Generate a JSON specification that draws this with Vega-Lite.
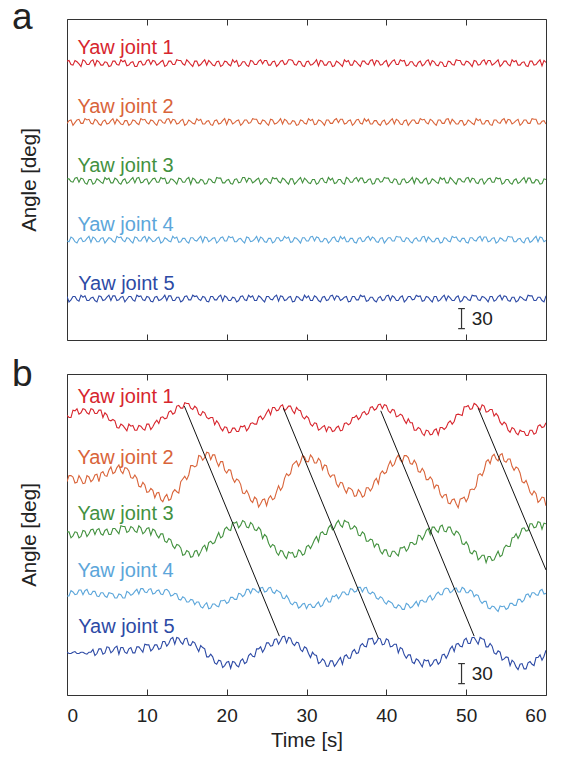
{
"$schema": "https://vega.github.io/schema/vega-lite/v6.json",
"background": "white",
"padding": {"left": 11, "top": -2, "right": 5, "bottom": 5},
"config": {"font": "Liberation Sans", "view": {"stroke": "#333", "strokeWidth": 1}, "axis": {"grid": false}},
"datasets": {
"sig": [
{"t":0,"a1":417,"a2":324,"a3":241,"a4":148,"a5":65,"b1":418,"b2":319,"b3":244,"b4":148,"b5":64},
{"t":0.5,"a1":412,"a2":329,"a3":237,"a4":154,"a5":60,"b1":415,"b2":328,"b3":235,"b4":156,"b5":62},
{"t":1,"a1":418,"a2":325,"a3":242,"a4":147,"a5":65,"b1":425,"b2":317,"b3":244,"b4":150,"b5":65},
{"t":1.5,"a1":413,"a2":330,"a3":236,"a4":151,"a5":58,"b1":420,"b2":328,"b3":235,"b4":157,"b5":62},
{"t":2,"a1":419,"a2":324,"a3":241,"a4":147,"a5":64,"b1":428,"b2":316,"b3":246,"b4":150,"b5":64},
{"t":2.5,"a1":412,"a2":329,"a3":233,"a4":152,"a5":59,"b1":422,"b2":328,"b3":237,"b4":158,"b5":61},
{"t":3,"a1":417,"a2":324,"a3":240,"a4":146,"a5":63,"b1":428,"b2":319,"b3":247,"b4":150,"b5":64},
{"t":3.5,"a1":410,"a2":330,"a3":235,"a4":152,"a5":59,"b1":421,"b2":329,"b3":240,"b4":155,"b5":59},
{"t":4,"a1":416,"a2":323,"a3":239,"a4":147,"a5":66,"b1":426,"b2":319,"b3":249,"b4":147,"b5":69},
{"t":4.5,"a1":411,"a2":327,"a3":234,"a4":153,"a5":59,"b1":415,"b2":334,"b3":239,"b4":153,"b5":61},
{"t":5,"a1":415,"a2":323,"a3":240,"a4":149,"a5":64,"b1":419,"b2":327,"b3":248,"b4":146,"b5":72},
{"t":5.5,"a1":410,"a2":328,"a3":235,"a4":152,"a5":59,"b1":410,"b2":341,"b3":240,"b4":152,"b5":63},
{"t":6,"a1":417,"a2":323,"a3":242,"a4":146,"a5":66,"b1":410,"b2":333,"b3":249,"b4":145,"b5":71},
{"t":6.5,"a1":411,"a2":327,"a3":235,"a4":153,"a5":60,"b1":399,"b2":344,"b3":241,"b4":151,"b5":61},
{"t":7,"a1":416,"a2":322,"a3":239,"a4":149,"a5":65,"b1":403,"b2":331,"b3":252,"b4":145,"b5":71},
{"t":7.5,"a1":410,"a2":328,"a3":234,"a4":153,"a5":61,"b1":395,"b2":339,"b3":243,"b4":155,"b5":62},
{"t":8,"a1":415,"a2":323,"a3":240,"a4":148,"a5":65,"b1":402,"b2":325,"b3":252,"b4":149,"b5":71},
{"t":8.5,"a1":409,"a2":328,"a3":235,"a4":154,"a5":58,"b1":396,"b2":329,"b3":245,"b4":155,"b5":63},
{"t":9,"a1":416,"a2":322,"a3":243,"a4":148,"a5":65,"b1":403,"b2":312,"b3":253,"b4":151,"b5":72},
{"t":9.5,"a1":411,"a2":329,"a3":236,"a4":153,"a5":60,"b1":398,"b2":318,"b3":241,"b4":159,"b5":64},
{"t":10,"a1":418,"a2":325,"a3":241,"a4":147,"a5":65,"b1":405,"b2":303,"b3":249,"b4":153,"b5":75},
{"t":10.5,"a1":412,"a2":329,"a3":237,"a4":151,"a5":58,"b1":397,"b2":309,"b3":239,"b4":159,"b5":66},
{"t":11,"a1":417,"a2":324,"a3":242,"a4":148,"a5":64,"b1":407,"b2":295,"b3":246,"b4":152,"b5":75},
{"t":11.5,"a1":413,"a2":329,"a3":236,"a4":154,"a5":59,"b1":406,"b2":303,"b3":235,"b4":157,"b5":68},
{"t":12,"a1":418,"a2":325,"a3":241,"a4":147,"a5":63,"b1":416,"b2":289,"b3":241,"b4":150,"b5":80},
{"t":12.5,"a1":411,"a2":330,"a3":234,"a4":151,"a5":59,"b1":414,"b2":300,"b3":228,"b4":158,"b5":73},
{"t":13,"a1":417,"a2":324,"a3":241,"a4":147,"a5":66,"b1":425,"b2":293,"b3":232,"b4":148,"b5":84},
{"t":13.5,"a1":412,"a2":329,"a3":237,"a4":152,"a5":59,"b1":422,"b2":307,"b3":219,"b4":152,"b5":76},
{"t":14,"a1":418,"a2":324,"a3":242,"a4":146,"a5":64,"b1":433,"b2":302,"b3":224,"b4":143,"b5":85},
{"t":14.5,"a1":413,"a2":330,"a3":236,"a4":152,"a5":59,"b1":429,"b2":323,"b3":209,"b4":147,"b5":76},
{"t":15,"a1":419,"a2":323,"a3":241,"a4":147,"a5":66,"b1":436,"b2":322,"b3":216,"b4":139,"b5":85},
{"t":15.5,"a1":412,"a2":327,"a3":233,"a4":153,"a5":60,"b1":429,"b2":343,"b3":206,"b4":143,"b5":74},
{"t":16,"a1":417,"a2":323,"a3":240,"a4":149,"a5":65,"b1":432,"b2":341,"b3":215,"b4":135,"b5":78},
{"t":16.5,"a1":410,"a2":328,"a3":235,"a4":152,"a5":61,"b1":420,"b2":358,"b3":208,"b4":139,"b5":65},
{"t":17,"a1":416,"a2":323,"a3":239,"a4":146,"a5":65,"b1":424,"b2":351,"b3":221,"b4":130,"b5":71},
{"t":17.5,"a1":411,"a2":327,"a3":234,"a4":153,"a5":58,"b1":415,"b2":363,"b3":216,"b4":138,"b5":57},
{"t":18,"a1":415,"a2":322,"a3":240,"a4":149,"a5":65,"b1":415,"b2":352,"b3":230,"b4":130,"b5":61},
{"t":18.5,"a1":410,"a2":328,"a3":235,"a4":153,"a5":60,"b1":404,"b2":359,"b3":228,"b4":136,"b5":48},
{"t":19,"a1":417,"a2":323,"a3":242,"a4":148,"a5":65,"b1":406,"b2":342,"b3":243,"b4":132,"b5":52},
{"t":19.5,"a1":411,"a2":328,"a3":235,"a4":154,"a5":58,"b1":395,"b2":349,"b3":237,"b4":141,"b5":41},
{"t":20,"a1":416,"a2":322,"a3":239,"a4":148,"a5":64,"b1":400,"b2":332,"b3":251,"b4":137,"b5":49},
{"t":20.5,"a1":410,"a2":329,"a3":234,"a4":153,"a5":59,"b1":393,"b2":336,"b3":246,"b4":146,"b5":40},
{"t":21,"a1":415,"a2":325,"a3":240,"a4":147,"a5":63,"b1":399,"b2":318,"b3":257,"b4":143,"b5":49},
{"t":21.5,"a1":409,"a2":329,"a3":235,"a4":151,"a5":59,"b1":394,"b2":321,"b3":250,"b4":152,"b5":42},
{"t":22,"a1":416,"a2":324,"a3":243,"a4":148,"a5":66,"b1":401,"b2":302,"b3":261,"b4":147,"b5":54},
{"t":22.5,"a1":411,"a2":329,"a3":236,"a4":154,"a5":59,"b1":395,"b2":306,"b3":251,"b4":158,"b5":49},
{"t":23,"a1":418,"a2":325,"a3":241,"a4":147,"a5":64,"b1":406,"b2":291,"b3":258,"b4":152,"b5":62},
{"t":23.5,"a1":412,"a2":330,"a3":237,"a4":151,"a5":59,"b1":405,"b2":296,"b3":247,"b4":158,"b5":57},
{"t":24,"a1":417,"a2":324,"a3":242,"a4":147,"a5":66,"b1":415,"b2":281,"b3":251,"b4":153,"b5":69},
{"t":24.5,"a1":413,"a2":329,"a3":236,"a4":152,"a5":60,"b1":412,"b2":292,"b3":234,"b4":161,"b5":64},
{"t":25,"a1":418,"a2":324,"a3":241,"a4":146,"a5":65,"b1":422,"b2":283,"b3":237,"b4":155,"b5":78},
{"t":25.5,"a1":411,"a2":330,"a3":234,"a4":152,"a5":61,"b1":419,"b2":298,"b3":221,"b4":161,"b5":73},
{"t":26,"a1":417,"a2":323,"a3":241,"a4":147,"a5":65,"b1":430,"b2":294,"b3":223,"b4":152,"b5":83},
{"t":26.5,"a1":412,"a2":327,"a3":237,"a4":153,"a5":58,"b1":426,"b2":313,"b3":209,"b4":155,"b5":76},
{"t":27,"a1":418,"a2":323,"a3":242,"a4":149,"a5":65,"b1":434,"b2":311,"b3":215,"b4":145,"b5":87},
{"t":27.5,"a1":413,"a2":328,"a3":236,"a4":152,"a5":60,"b1":428,"b2":331,"b3":204,"b4":149,"b5":78},
{"t":28,"a1":419,"a2":323,"a3":241,"a4":146,"a5":65,"b1":432,"b2":331,"b3":212,"b4":137,"b5":85},
{"t":28.5,"a1":412,"a2":327,"a3":233,"a4":153,"a5":58,"b1":421,"b2":347,"b3":206,"b4":139,"b5":74},
{"t":29,"a1":417,"a2":322,"a3":240,"a4":149,"a5":64,"b1":426,"b2":342,"b3":217,"b4":130,"b5":78},
{"t":29.5,"a1":410,"a2":328,"a3":235,"a4":153,"a5":59,"b1":416,"b2":358,"b3":209,"b4":136,"b5":65},
{"t":30,"a1":416,"a2":323,"a3":239,"a4":148,"a5":63,"b1":417,"b2":349,"b3":222,"b4":129,"b5":70},
{"t":30.5,"a1":411,"a2":328,"a3":234,"a4":154,"a5":59,"b1":405,"b2":359,"b3":219,"b4":136,"b5":56},
{"t":31,"a1":415,"a2":322,"a3":240,"a4":148,"a5":66,"b1":407,"b2":347,"b3":232,"b4":131,"b5":60},
{"t":31.5,"a1":410,"a2":329,"a3":235,"a4":153,"a5":59,"b1":396,"b2":354,"b3":229,"b4":139,"b5":47},
{"t":32,"a1":417,"a2":325,"a3":242,"a4":147,"a5":64,"b1":401,"b2":337,"b3":244,"b4":134,"b5":54},
{"t":32.5,"a1":411,"a2":329,"a3":235,"a4":151,"a5":59,"b1":394,"b2":343,"b3":240,"b4":145,"b5":43},
{"t":33,"a1":416,"a2":324,"a3":239,"a4":148,"a5":66,"b1":400,"b2":326,"b3":254,"b4":139,"b5":51},
{"t":33.5,"a1":410,"a2":329,"a3":234,"a4":154,"a5":60,"b1":395,"b2":329,"b3":250,"b4":147,"b5":43},
{"t":34,"a1":415,"a2":325,"a3":240,"a4":147,"a5":65,"b1":402,"b2":311,"b3":261,"b4":144,"b5":52},
{"t":34.5,"a1":409,"a2":330,"a3":235,"a4":151,"a5":61,"b1":396,"b2":317,"b3":251,"b4":154,"b5":46},
{"t":35,"a1":416,"a2":324,"a3":243,"a4":147,"a5":65,"b1":407,"b2":302,"b3":259,"b4":150,"b5":60},
{"t":35.5,"a1":411,"a2":329,"a3":236,"a4":152,"a5":58,"b1":406,"b2":309,"b3":248,"b4":159,"b5":55},
{"t":36,"a1":418,"a2":324,"a3":241,"a4":146,"a5":65,"b1":415,"b2":297,"b3":253,"b4":154,"b5":68},
{"t":36.5,"a1":412,"a2":330,"a3":237,"a4":152,"a5":60,"b1":412,"b2":307,"b3":239,"b4":161,"b5":63},
{"t":37,"a1":417,"a2":323,"a3":242,"a4":147,"a5":65,"b1":422,"b2":296,"b3":244,"b4":154,"b5":77},
{"t":37.5,"a1":413,"a2":327,"a3":236,"a4":153,"a5":58,"b1":419,"b2":310,"b3":230,"b4":161,"b5":72},
{"t":38,"a1":418,"a2":323,"a3":241,"a4":149,"a5":64,"b1":430,"b2":305,"b3":233,"b4":151,"b5":84},
{"t":38.5,"a1":411,"a2":328,"a3":234,"a4":152,"a5":59,"b1":426,"b2":320,"b3":221,"b4":152,"b5":76},
{"t":39,"a1":417,"a2":323,"a3":241,"a4":146,"a5":63,"b1":434,"b2":316,"b3":225,"b4":143,"b5":85},
{"t":39.5,"a1":412,"a2":327,"a3":237,"a4":153,"a5":59,"b1":428,"b2":335,"b3":211,"b4":145,"b5":75},
{"t":40,"a1":418,"a2":322,"a3":242,"a4":149,"a5":66,"b1":433,"b2":333,"b3":217,"b4":136,"b5":84},
{"t":40.5,"a1":413,"a2":328,"a3":236,"a4":153,"a5":59,"b1":422,"b2":350,"b3":207,"b4":139,"b5":72},
{"t":41,"a1":419,"a2":323,"a3":241,"a4":148,"a5":64,"b1":426,"b2":345,"b3":215,"b4":131,"b5":76},
{"t":41.5,"a1":412,"a2":328,"a3":233,"a4":154,"a5":59,"b1":417,"b2":359,"b3":208,"b4":135,"b5":63},
{"t":42,"a1":417,"a2":322,"a3":240,"a4":148,"a5":66,"b1":418,"b2":348,"b3":220,"b4":128,"b5":69},
{"t":42.5,"a1":410,"a2":329,"a3":235,"a4":153,"a5":60,"b1":406,"b2":358,"b3":215,"b4":137,"b5":55},
{"t":43,"a1":416,"a2":325,"a3":239,"a4":147,"a5":65,"b1":407,"b2":346,"b3":228,"b4":130,"b5":60},
{"t":43.5,"a1":411,"a2":329,"a3":234,"a4":151,"a5":61,"b1":396,"b2":351,"b3":225,"b4":136,"b5":47},
{"t":44,"a1":415,"a2":324,"a3":240,"a4":148,"a5":65,"b1":400,"b2":334,"b3":239,"b4":133,"b5":52},
{"t":44.5,"a1":410,"a2":329,"a3":235,"a4":154,"a5":58,"b1":391,"b2":339,"b3":232,"b4":142,"b5":42},
{"t":45,"a1":417,"a2":325,"a3":242,"a4":147,"a5":65,"b1":396,"b2":322,"b3":246,"b4":139,"b5":51},
{"t":45.5,"a1":411,"a2":330,"a3":235,"a4":151,"a5":60,"b1":389,"b2":326,"b3":240,"b4":149,"b5":43},
{"t":46,"a1":416,"a2":324,"a3":239,"a4":147,"a5":65,"b1":396,"b2":309,"b3":251,"b4":145,"b5":52},
{"t":46.5,"a1":410,"a2":329,"a3":234,"a4":152,"a5":58,"b1":389,"b2":313,"b3":243,"b4":154,"b5":46},
{"t":47,"a1":415,"a2":324,"a3":240,"a4":146,"a5":64,"b1":400,"b2":295,"b3":254,"b4":150,"b5":60},
{"t":47.5,"a1":409,"a2":330,"a3":235,"a4":152,"a5":59,"b1":400,"b2":300,"b3":244,"b4":160,"b5":55},
{"t":48,"a1":416,"a2":323,"a3":243,"a4":147,"a5":63,"b1":410,"b2":286,"b3":251,"b4":153,"b5":69},
{"t":48.5,"a1":411,"a2":327,"a3":236,"a4":153,"a5":59,"b1":409,"b2":293,"b3":239,"b4":159,"b5":65},
{"t":49,"a1":418,"a2":323,"a3":241,"a4":149,"a5":66,"b1":420,"b2":280,"b3":243,"b4":154,"b5":77},
{"t":49.5,"a1":412,"a2":328,"a3":237,"a4":152,"a5":59,"b1":418,"b2":294,"b3":226,"b4":161,"b5":72},
{"t":50,"a1":417,"a2":323,"a3":242,"a4":146,"a5":64,"b1":431,"b2":289,"b3":229,"b4":153,"b5":85},
{"t":50.5,"a1":413,"a2":327,"a3":236,"a4":153,"a5":59,"b1":427,"b2":307,"b3":213,"b4":157,"b5":77},
{"t":51,"a1":418,"a2":322,"a3":241,"a4":149,"a5":66,"b1":436,"b2":307,"b3":216,"b4":147,"b5":86},
{"t":51.5,"a1":411,"a2":328,"a3":234,"a4":153,"a5":60,"b1":430,"b2":329,"b3":202,"b4":149,"b5":76},
{"t":52,"a1":417,"a2":323,"a3":241,"a4":148,"a5":65,"b1":434,"b2":328,"b3":209,"b4":137,"b5":84},
{"t":52.5,"a1":412,"a2":328,"a3":237,"a4":154,"a5":61,"b1":423,"b2":349,"b3":198,"b4":140,"b5":72},
{"t":53,"a1":418,"a2":322,"a3":242,"a4":148,"a5":65,"b1":427,"b2":346,"b3":207,"b4":129,"b5":77},
{"t":53.5,"a1":413,"a2":329,"a3":236,"a4":153,"a5":58,"b1":417,"b2":360,"b3":202,"b4":132,"b5":63},
{"t":54,"a1":419,"a2":325,"a3":241,"a4":147,"a5":65,"b1":417,"b2":350,"b3":215,"b4":125,"b5":66},
{"t":54.5,"a1":412,"a2":329,"a3":233,"a4":151,"a5":60,"b1":404,"b2":361,"b3":209,"b4":132,"b5":52},
{"t":55,"a1":417,"a2":324,"a3":240,"a4":148,"a5":65,"b1":405,"b2":348,"b3":224,"b4":128,"b5":57},
{"t":55.5,"a1":410,"a2":329,"a3":235,"a4":154,"a5":58,"b1":393,"b2":353,"b3":222,"b4":137,"b5":44},
{"t":56,"a1":416,"a2":325,"a3":239,"a4":147,"a5":64,"b1":398,"b2":336,"b3":236,"b4":134,"b5":49},
{"t":56.5,"a1":411,"a2":330,"a3":234,"a4":151,"a5":59,"b1":389,"b2":339,"b3":234,"b4":143,"b5":38},
{"t":57,"a1":415,"a2":324,"a3":240,"a4":147,"a5":63,"b1":394,"b2":319,"b3":249,"b4":139,"b5":47},
{"t":57.5,"a1":410,"a2":329,"a3":235,"a4":152,"a5":59,"b1":388,"b2":321,"b3":245,"b4":150,"b5":39},
{"t":58,"a1":417,"a2":324,"a3":242,"a4":146,"a5":66,"b1":396,"b2":303,"b3":256,"b4":146,"b5":50},
{"t":58.5,"a1":411,"a2":330,"a3":235,"a4":152,"a5":59,"b1":390,"b2":305,"b3":250,"b4":153,"b5":44},
{"t":59,"a1":416,"a2":323,"a3":239,"a4":147,"a5":64,"b1":402,"b2":288,"b3":259,"b4":149,"b5":56},
{"t":59.5,"a1":410,"a2":327,"a3":234,"a4":153,"a5":59,"b1":400,"b2":296,"b3":248,"b4":158,"b5":52},
{"t":60,"a1":415,"a2":323,"a3":240,"a4":149,"a5":66,"b1":407,"b2":283,"b3":256,"b4":152,"b5":67},
{"t":0.25,"a1":418,"a2":328,"a3":241,"a4":147,"a5":57,"b1":415,"b2":328,"b3":244,"b4":148,"b5":62},
{"t":0.75,"a1":411,"a2":321,"a3":236,"a4":152,"a5":65,"b1":426,"b2":326,"b3":238,"b4":154,"b5":64},
{"t":1.25,"a1":416,"a2":329,"a3":243,"a4":145,"a5":60,"b1":428,"b2":318,"b3":243,"b4":151,"b5":62},
{"t":1.75,"a1":409,"a2":324,"a3":242,"a4":153,"a5":67,"b1":422,"b2":323,"b3":237,"b4":157,"b5":64},
{"t":2.25,"a1":417,"a2":331,"a3":235,"a4":148,"a5":66,"b1":427,"b2":317,"b3":245,"b4":156,"b5":62},
{"t":2.75,"a1":412,"a2":330,"a3":240,"a4":155,"a5":59,"b1":420,"b2":326,"b3":241,"b4":151,"b5":64},
{"t":3.25,"a1":419,"a2":323,"a3":233,"a4":154,"a5":64,"b1":427,"b2":322,"b3":248,"b4":155,"b5":68},
{"t":3.75,"a1":418,"a2":328,"a3":241,"a4":147,"a5":57,"b1":421,"b2":330,"b3":247,"b4":148,"b5":62},
{"t":4.25,"a1":411,"a2":321,"a3":236,"a4":152,"a5":65,"b1":426,"b2":332,"b3":241,"b4":153,"b5":69},
{"t":4.75,"a1":416,"a2":329,"a3":243,"a4":145,"a5":60,"b1":422,"b2":328,"b3":246,"b4":148,"b5":63},
{"t":5.25,"a1":409,"a2":324,"a3":242,"a4":153,"a5":67,"b1":411,"b2":336,"b3":240,"b4":153,"b5":71},
{"t":5.75,"a1":417,"a2":331,"a3":235,"a4":148,"a5":66,"b1":412,"b2":331,"b3":249,"b4":151,"b5":66},
{"t":6.25,"a1":412,"a2":330,"a3":240,"a4":155,"a5":59,"b1":400,"b2":340,"b3":245,"b4":145,"b5":73},
{"t":6.75,"a1":419,"a2":323,"a3":233,"a4":154,"a5":64,"b1":405,"b2":335,"b3":253,"b4":150,"b5":71},
{"t":7.25,"a1":418,"a2":328,"a3":241,"a4":147,"a5":57,"b1":399,"b2":340,"b3":252,"b4":145,"b5":64},
{"t":7.75,"a1":411,"a2":321,"a3":236,"a4":152,"a5":65,"b1":405,"b2":335,"b3":245,"b4":153,"b5":69},
{"t":8.25,"a1":416,"a2":329,"a3":243,"a4":145,"a5":60,"b1":403,"b2":324,"b3":250,"b4":151,"b5":63},
{"t":8.75,"a1":409,"a2":324,"a3":242,"a4":153,"a5":67,"b1":396,"b2":324,"b3":243,"b4":158,"b5":72},
{"t":9.25,"a1":417,"a2":331,"a3":235,"a4":148,"a5":66,"b1":402,"b2":311,"b3":250,"b4":159,"b5":68},
{"t":9.75,"a1":412,"a2":330,"a3":240,"a4":155,"a5":59,"b1":396,"b2":314,"b3":244,"b4":154,"b5":76},
{"t":10.25,"a1":419,"a2":323,"a3":233,"a4":154,"a5":64,"b1":405,"b2":304,"b3":250,"b4":158,"b5":75},
{"t":10.75,"a1":418,"a2":328,"a3":241,"a4":147,"a5":57,"b1":401,"b2":306,"b3":248,"b4":151,"b5":69},
{"t":11.25,"a1":411,"a2":321,"a3":236,"a4":152,"a5":65,"b1":411,"b2":302,"b3":239,"b4":156,"b5":75},
{"t":11.75,"a1":416,"a2":329,"a3":243,"a4":145,"a5":60,"b1":415,"b2":292,"b3":241,"b4":151,"b5":70},
{"t":12.25,"a1":409,"a2":324,"a3":242,"a4":153,"a5":67,"b1":413,"b2":296,"b3":230,"b4":157,"b5":80},
{"t":12.75,"a1":417,"a2":331,"a3":235,"a4":148,"a5":66,"b1":423,"b2":291,"b3":234,"b4":155,"b5":77},
{"t":13.25,"a1":412,"a2":330,"a3":240,"a4":155,"a5":59,"b1":420,"b2":303,"b3":223,"b4":149,"b5":86},
{"t":13.75,"a1":419,"a2":323,"a3":233,"a4":154,"a5":64,"b1":432,"b2":304,"b3":225,"b4":151,"b5":86},
{"t":14.25,"a1":418,"a2":328,"a3":241,"a4":147,"a5":57,"b1":429,"b2":319,"b3":220,"b4":142,"b5":79},
{"t":14.75,"a1":411,"a2":321,"a3":236,"a4":152,"a5":65,"b1":437,"b2":327,"b3":210,"b4":145,"b5":84},
{"t":15.25,"a1":416,"a2":329,"a3":243,"a4":145,"a5":60,"b1":436,"b2":329,"b3":214,"b4":139,"b5":75},
{"t":15.75,"a1":409,"a2":324,"a3":242,"a4":153,"a5":67,"b1":427,"b2":343,"b3":207,"b4":142,"b5":80},
{"t":16.25,"a1":417,"a2":331,"a3":235,"a4":148,"a5":66,"b1":429,"b2":343,"b3":216,"b4":139,"b5":71},
{"t":16.75,"a1":412,"a2":330,"a3":240,"a4":155,"a5":59,"b1":418,"b2":357,"b3":214,"b4":132,"b5":74},
{"t":17.25,"a1":419,"a2":323,"a3":233,"a4":154,"a5":64,"b1":422,"b2":355,"b3":224,"b4":135,"b5":69},
{"t":17.75,"a1":418,"a2":328,"a3":241,"a4":147,"a5":57,"b1":413,"b2":362,"b3":228,"b4":129,"b5":57},
{"t":18.25,"a1":411,"a2":321,"a3":236,"a4":152,"a5":65,"b1":415,"b2":359,"b3":226,"b4":136,"b5":57},
{"t":18.75,"a1":416,"a2":329,"a3":243,"a4":145,"a5":60,"b1":410,"b2":349,"b3":236,"b4":133,"b5":46},
{"t":19.25,"a1":409,"a2":324,"a3":242,"a4":153,"a5":67,"b1":399,"b2":349,"b3":235,"b4":141,"b5":51},
{"t":19.75,"a1":417,"a2":331,"a3":235,"a4":148,"a5":66,"b1":401,"b2":336,"b3":248,"b4":142,"b5":44},
{"t":20.25,"a1":412,"a2":330,"a3":240,"a4":155,"a5":59,"b1":392,"b2":337,"b3":247,"b4":139,"b5":50},
{"t":20.75,"a1":419,"a2":323,"a3":233,"a4":154,"a5":64,"b1":399,"b2":324,"b3":258,"b4":146,"b5":50},
{"t":21.25,"a1":418,"a2":328,"a3":241,"a4":147,"a5":57,"b1":394,"b2":323,"b3":259,"b4":143,"b5":44},
{"t":21.75,"a1":411,"a2":321,"a3":236,"a4":152,"a5":65,"b1":402,"b2":315,"b3":254,"b4":151,"b5":51},
{"t":22.25,"a1":416,"a2":329,"a3":243,"a4":145,"a5":60,"b1":403,"b2":301,"b3":259,"b4":150,"b5":47},
{"t":22.75,"a1":409,"a2":324,"a3":242,"a4":153,"a5":67,"b1":399,"b2":300,"b3":250,"b4":158,"b5":59},
{"t":23.25,"a1":417,"a2":331,"a3":235,"a4":148,"a5":66,"b1":407,"b2":288,"b3":255,"b4":159,"b5":58},
{"t":23.75,"a1":412,"a2":330,"a3":240,"a4":155,"a5":59,"b1":405,"b2":293,"b3":246,"b4":155,"b5":69},
{"t":24.25,"a1":419,"a2":323,"a3":233,"a4":154,"a5":64,"b1":417,"b2":286,"b3":247,"b4":160,"b5":72},
{"t":24.75,"a1":418,"a2":328,"a3":241,"a4":147,"a5":57,"b1":416,"b2":293,"b3":240,"b4":154,"b5":69},
{"t":25.25,"a1":411,"a2":321,"a3":236,"a4":152,"a5":65,"b1":427,"b2":294,"b3":227,"b4":160,"b5":78},
{"t":25.75,"a1":416,"a2":329,"a3":243,"a4":145,"a5":60,"b1":430,"b2":292,"b3":225,"b4":154,"b5":74},
{"t":26.25,"a1":409,"a2":324,"a3":242,"a4":153,"a5":67,"b1":425,"b2":304,"b3":213,"b4":157,"b5":84},
{"t":26.75,"a1":417,"a2":331,"a3":235,"a4":148,"a5":66,"b1":432,"b2":306,"b3":216,"b4":153,"b5":81},
{"t":27.25,"a1":412,"a2":330,"a3":240,"a4":155,"a5":59,"b1":425,"b2":324,"b3":208,"b4":144,"b5":88},
{"t":27.75,"a1":419,"a2":323,"a3":233,"a4":154,"a5":64,"b1":432,"b2":328,"b3":214,"b4":144,"b5":86},
{"t":28.25,"a1":418,"a2":328,"a3":241,"a4":147,"a5":57,"b1":425,"b2":344,"b3":213,"b4":135,"b5":77},
{"t":28.75,"a1":411,"a2":321,"a3":236,"a4":152,"a5":65,"b1":430,"b2":350,"b3":207,"b4":138,"b5":79},
{"t":29.25,"a1":416,"a2":329,"a3":243,"a4":145,"a5":60,"b1":425,"b2":348,"b3":215,"b4":132,"b5":68},
{"t":29.75,"a1":409,"a2":324,"a3":242,"a4":153,"a5":67,"b1":413,"b2":356,"b3":211,"b4":137,"b5":72},
{"t":30.25,"a1":417,"a2":331,"a3":235,"a4":148,"a5":66,"b1":414,"b2":349,"b3":224,"b4":135,"b5":62},
{"t":30.75,"a1":412,"a2":330,"a3":240,"a4":155,"a5":59,"b1":402,"b2":355,"b3":225,"b4":131,"b5":64},
{"t":31.25,"a1":419,"a2":323,"a3":233,"a4":154,"a5":64,"b1":406,"b2":347,"b3":237,"b4":136,"b5":59},
{"t":31.75,"a1":418,"a2":328,"a3":241,"a4":147,"a5":57,"b1":398,"b2":350,"b3":242,"b4":132,"b5":49},
{"t":32.25,"a1":411,"a2":321,"a3":236,"a4":152,"a5":65,"b1":403,"b2":344,"b3":240,"b4":141,"b5":51},
{"t":32.75,"a1":416,"a2":329,"a3":243,"a4":145,"a5":60,"b1":401,"b2":331,"b3":250,"b4":139,"b5":43},
{"t":33.25,"a1":409,"a2":324,"a3":242,"a4":153,"a5":67,"b1":394,"b2":329,"b3":247,"b4":148,"b5":51},
{"t":33.75,"a1":417,"a2":331,"a3":235,"a4":148,"a5":66,"b1":400,"b2":316,"b3":257,"b4":150,"b5":47},
{"t":34.25,"a1":412,"a2":330,"a3":240,"a4":155,"a5":59,"b1":395,"b2":318,"b3":254,"b4":148,"b5":56},
{"t":34.75,"a1":419,"a2":323,"a3":233,"a4":154,"a5":64,"b1":406,"b2":308,"b3":261,"b4":154,"b5":58},
{"t":35.25,"a1":418,"a2":328,"a3":241,"a4":147,"a5":57,"b1":404,"b2":310,"b3":258,"b4":150,"b5":55},
{"t":35.75,"a1":411,"a2":321,"a3":236,"a4":152,"a5":65,"b1":415,"b2":306,"b3":249,"b4":158,"b5":65},
{"t":36.25,"a1":416,"a2":329,"a3":243,"a4":145,"a5":60,"b1":418,"b2":298,"b3":250,"b4":155,"b5":62},
{"t":36.75,"a1":409,"a2":324,"a3":242,"a4":153,"a5":67,"b1":415,"b2":303,"b3":238,"b4":161,"b5":74},
{"t":37.25,"a1":417,"a2":331,"a3":235,"a4":148,"a5":66,"b1":424,"b2":298,"b3":241,"b4":160,"b5":73},
{"t":37.75,"a1":412,"a2":330,"a3":240,"a4":155,"a5":59,"b1":421,"b2":310,"b3":230,"b4":153,"b5":84},
{"t":38.25,"a1":419,"a2":323,"a3":233,"a4":154,"a5":64,"b1":431,"b2":310,"b3":232,"b4":154,"b5":85},
{"t":38.75,"a1":418,"a2":328,"a3":241,"a4":147,"a5":57,"b1":428,"b2":324,"b3":226,"b4":145,"b5":79},
{"t":39.25,"a1":411,"a2":321,"a3":236,"a4":152,"a5":65,"b1":435,"b2":331,"b3":215,"b4":147,"b5":84},
{"t":39.75,"a1":416,"a2":329,"a3":243,"a4":145,"a5":60,"b1":434,"b2":331,"b3":217,"b4":139,"b5":76},
{"t":40.25,"a1":409,"a2":324,"a3":242,"a4":153,"a5":67,"b1":425,"b2":343,"b3":208,"b4":141,"b5":82},
{"t":40.75,"a1":417,"a2":331,"a3":235,"a4":148,"a5":66,"b1":427,"b2":342,"b3":215,"b4":137,"b5":73},
{"t":41.25,"a1":412,"a2":330,"a3":240,"a4":155,"a5":59,"b1":416,"b2":354,"b3":211,"b4":130,"b5":76},
{"t":41.75,"a1":419,"a2":323,"a3":233,"a4":154,"a5":64,"b1":420,"b2":351,"b3":220,"b4":133,"b5":71},
{"t":42.25,"a1":418,"a2":328,"a3":241,"a4":147,"a5":57,"b1":411,"b2":358,"b3":222,"b4":128,"b5":60},
{"t":42.75,"a1":411,"a2":321,"a3":236,"a4":152,"a5":65,"b1":413,"b2":355,"b3":219,"b4":135,"b5":60},
{"t":43.25,"a1":416,"a2":329,"a3":243,"a4":145,"a5":60,"b1":407,"b2":345,"b3":228,"b4":132,"b5":49},
{"t":43.75,"a1":409,"a2":324,"a3":242,"a4":153,"a5":67,"b1":396,"b2":346,"b3":226,"b4":140,"b5":54},
{"t":44.25,"a1":417,"a2":331,"a3":235,"a4":148,"a5":66,"b1":398,"b2":333,"b3":238,"b4":141,"b5":47},
{"t":44.75,"a1":412,"a2":330,"a3":240,"a4":155,"a5":59,"b1":388,"b2":334,"b3":238,"b4":139,"b5":53},
{"t":45.25,"a1":419,"a2":323,"a3":233,"a4":154,"a5":64,"b1":395,"b2":322,"b3":249,"b4":146,"b5":52},
{"t":45.75,"a1":418,"a2":328,"a3":241,"a4":147,"a5":57,"b1":390,"b2":322,"b3":251,"b4":142,"b5":46},
{"t":46.25,"a1":411,"a2":321,"a3":236,"a4":152,"a5":65,"b1":398,"b2":314,"b3":246,"b4":151,"b5":53},
{"t":46.75,"a1":416,"a2":329,"a3":243,"a4":145,"a5":60,"b1":400,"b2":300,"b3":252,"b4":150,"b5":49},
{"t":47.25,"a1":409,"a2":324,"a3":242,"a4":153,"a5":67,"b1":397,"b2":299,"b3":245,"b4":158,"b5":61},
{"t":47.75,"a1":417,"a2":331,"a3":235,"a4":148,"a5":66,"b1":407,"b2":287,"b3":251,"b4":159,"b5":61},
{"t":48.25,"a1":412,"a2":330,"a3":240,"a4":155,"a5":59,"b1":405,"b2":292,"b3":243,"b4":155,"b5":73},
{"t":48.75,"a1":419,"a2":323,"a3":233,"a4":154,"a5":64,"b1":419,"b2":286,"b3":245,"b4":160,"b5":76},
{"t":49.25,"a1":418,"a2":328,"a3":241,"a4":147,"a5":57,"b1":419,"b2":293,"b3":238,"b4":154,"b5":73},
{"t":49.75,"a1":411,"a2":321,"a3":236,"a4":152,"a5":65,"b1":431,"b2":296,"b3":225,"b4":159,"b5":82},
{"t":50.25,"a1":416,"a2":329,"a3":243,"a4":145,"a5":60,"b1":433,"b2":295,"b3":224,"b4":153,"b5":77},
{"t":50.75,"a1":409,"a2":324,"a3":242,"a4":153,"a5":67,"b1":428,"b2":308,"b3":211,"b4":155,"b5":86},
{"t":51.25,"a1":417,"a2":331,"a3":235,"a4":148,"a5":66,"b1":434,"b2":312,"b3":214,"b4":150,"b5":81},
{"t":51.75,"a1":412,"a2":330,"a3":240,"a4":155,"a5":59,"b1":426,"b2":331,"b3":205,"b4":141,"b5":86},
{"t":52.25,"a1":419,"a2":323,"a3":233,"a4":154,"a5":64,"b1":432,"b2":336,"b3":209,"b4":140,"b5":83},
{"t":52.75,"a1":418,"a2":328,"a3":241,"a4":147,"a5":57,"b1":424,"b2":352,"b3":207,"b4":130,"b5":72},
{"t":53.25,"a1":411,"a2":321,"a3":236,"a4":152,"a5":65,"b1":427,"b2":357,"b3":201,"b4":133,"b5":73},
{"t":53.75,"a1":416,"a2":329,"a3":243,"a4":145,"a5":60,"b1":421,"b2":353,"b3":209,"b4":128,"b5":61},
{"t":54.25,"a1":409,"a2":324,"a3":242,"a4":153,"a5":67,"b1":408,"b2":359,"b3":207,"b4":133,"b5":64},
{"t":54.75,"a1":417,"a2":331,"a3":235,"a4":148,"a5":66,"b1":408,"b2":350,"b3":220,"b4":133,"b5":54},
{"t":55.25,"a1":412,"a2":330,"a3":240,"a4":155,"a5":59,"b1":396,"b2":353,"b3":222,"b4":130,"b5":56},
{"t":55.75,"a1":419,"a2":323,"a3":233,"a4":154,"a5":64,"b1":400,"b2":342,"b3":235,"b4":137,"b5":52},
{"t":56.25,"a1":418,"a2":328,"a3":241,"a4":147,"a5":57,"b1":392,"b2":341,"b3":241,"b4":134,"b5":42},
{"t":56.75,"a1":411,"a2":321,"a3":236,"a4":152,"a5":65,"b1":396,"b2":332,"b3":240,"b4":143,"b5":46},
{"t":57.25,"a1":416,"a2":329,"a3":243,"a4":145,"a5":60,"b1":394,"b2":317,"b3":250,"b4":142,"b5":39},
{"t":57.75,"a1":409,"a2":324,"a3":242,"a4":153,"a5":67,"b1":388,"b2":313,"b3":246,"b4":151,"b5":48},
{"t":58.25,"a1":417,"a2":331,"a3":235,"a4":148,"a5":66,"b1":396,"b2":299,"b3":256,"b4":153,"b5":46},
{"t":58.75,"a1":412,"a2":330,"a3":240,"a4":155,"a5":59,"b1":392,"b2":301,"b3":251,"b4":150,"b5":56},
{"t":59.25,"a1":419,"a2":323,"a3":233,"a4":154,"a5":64,"b1":404,"b2":291,"b3":258,"b4":156,"b5":60},
{"t":59.75,"a1":418,"a2":328,"a3":241,"a4":147,"a5":57,"b1":401,"b2":295,"b3":257,"b4":151,"b5":58}
],
"lab": [
{"p":"a","k":"a1","t":1.3,"v":427,"txt":"Yaw joint 1"},
{"p":"a","k":"a2","t":1.3,"v":339,"txt":"Yaw joint 2"},
{"p":"a","k":"a3","t":1.3,"v":251,"txt":"Yaw joint 3"},
{"p":"a","k":"a4","t":1.3,"v":163,"txt":"Yaw joint 4"},
{"p":"a","k":"a5","t":1.4,"v":75,"txt":"Yaw joint 5"},
{"p":"b","k":"b1","t":1.3,"v":436,"txt":"Yaw joint 1"},
{"p":"b","k":"b2","t":1.3,"v":346,"txt":"Yaw joint 2"},
{"p":"b","k":"b3","t":1.3,"v":262,"txt":"Yaw joint 3"},
{"p":"b","k":"b4","t":1.3,"v":176,"txt":"Yaw joint 4"},
{"p":"b","k":"b5","t":1.4,"v":92,"txt":"Yaw joint 5"}
],
"bar": [
{"t":49.42,"t2":49.42,"v":17,"v2":47},
{"t":49.0,"t2":49.84,"v":17,"v2":17},
{"t":49.0,"t2":49.84,"v":47,"v2":47}
],
"barlab": [{"t":50.7,"v":22,"txt":"30"}],
"diag": [
{"t":14.7,"t2":26.6,"v":432,"v2":88},
{"t":27.1,"t2":39.0,"v":429,"v2":85},
{"t":39.3,"t2":51.0,"v":425,"v2":88},
{"t":51.5,"t2":60,"v":429,"v2":187}
]
},
"spacing": 34,
"bounds": "flush",
"resolve": {"scale": {"color": "independent", "x": "independent", "y": "independent"}},
"vconcat": [
{
"width": 479, "height": 321,
"title": {"text": "a", "anchor": "start", "frame": "group", "fontSize": 37, "fontWeight": "normal", "color": "#222", "dx": -55, "dy": 10, "offset": -37, "baseline": "alphabetic"},
"resolve": {"axis": {"x": "independent"}},
"layer": [
{
"data": {"name": "sig"},
"transform": [{"fold": ["a1","a2","a3","a4","a5"], "as": ["k","v"]}],
"mark": {"type": "line", "strokeWidth": 1.1, "clip": true},
"encoding": {
"x": {"field": "t", "type": "quantitative", "scale": {"domain": [0,60], "nice": false}, "axis": {"orient": "bottom", "values": [0,10,20,30,40,50,60], "labels": false, "domain": false, "tickSize": -6, "tickColor": "#333", "title": null}},
"y": {"field": "v", "type": "quantitative", "scale": {"domain": [0,480], "nice": false, "zero": false}, "axis": {"orient": "left", "title": "Angle [deg]", "labels": false, "ticks": false, "domain": false, "titleFontSize": 20.5, "titleFontWeight": "normal", "titleColor": "#222", "titlePadding": 28}},
"color": {"field": "k", "type": "nominal", "scale": {"domain": ["a1","a2","a3","a4","a5"], "range": ["#d7262e","#d9643a","#43913f","#5ca6da","#2d4aa5"]}, "legend": null}
}
},
{
"data": {"name": "lab"},
"transform": [{"filter": "datum.p === 'a'"}],
"mark": {"type": "text", "align": "left", "baseline": "alphabetic", "fontSize": 20},
"encoding": {
"x": {"field": "t", "type": "quantitative", "axis": {"orient": "top", "values": [0,10,20,30,40,50,60], "labels": false, "domain": false, "tickSize": -6, "tickColor": "#333", "title": null}},
"y": {"field": "v", "type": "quantitative"},
"text": {"field": "txt"},
"color": {"field": "k", "type": "nominal", "legend": null}
}
},
{
"data": {"name": "bar"},
"mark": {"type": "rule", "color": "#333", "strokeWidth": 1.2},
"encoding": {
"x": {"field": "t", "type": "quantitative", "axis": null},
"x2": {"field": "t2"},
"y": {"field": "v", "type": "quantitative"},
"y2": {"field": "v2"}
}
},
{
"data": {"name": "barlab"},
"mark": {"type": "text", "align": "left", "baseline": "alphabetic", "fontSize": 19, "color": "#222"},
"encoding": {
"x": {"field": "t", "type": "quantitative", "axis": null},
"y": {"field": "v", "type": "quantitative"},
"text": {"field": "txt"}
}
}
]
},
{
"width": 479, "height": 321,
"title": {"text": "b", "anchor": "start", "frame": "group", "fontSize": 37, "fontWeight": "normal", "color": "#222", "dx": -55, "dy": 12, "offset": -37, "baseline": "alphabetic"},
"resolve": {"axis": {"x": "independent"}},
"layer": [
{
"data": {"name": "sig"},
"transform": [{"fold": ["b1","b2","b3","b4","b5"], "as": ["k","v"]}],
"mark": {"type": "line", "strokeWidth": 1.1, "clip": true},
"encoding": {
"x": {"field": "t", "type": "quantitative", "scale": {"domain": [0,60], "nice": false}, "axis": {"orient": "bottom", "values": [0,10,20,30,40,50,60], "domain": false, "tickSize": -6, "tickColor": "#333", "labelFontSize": 19, "labelColor": "#222", "labelPadding": 17, "title": "Time [s]", "titleFontSize": 20.5, "titleFontWeight": "normal", "titleColor": "#222", "titlePadding": 5}},
"y": {"field": "v", "type": "quantitative", "scale": {"domain": [0,480], "nice": false, "zero": false}, "axis": {"orient": "left", "title": "Angle [deg]", "labels": false, "ticks": false, "domain": false, "titleFontSize": 20.5, "titleFontWeight": "normal", "titleColor": "#222", "titlePadding": 28}},
"color": {"field": "k", "type": "nominal", "scale": {"domain": ["b1","b2","b3","b4","b5"], "range": ["#d7262e","#d9643a","#43913f","#5ca6da","#2d4aa5"]}, "legend": null}
}
},
{
"data": {"name": "lab"},
"transform": [{"filter": "datum.p === 'b'"}],
"mark": {"type": "text", "align": "left", "baseline": "alphabetic", "fontSize": 20},
"encoding": {
"x": {"field": "t", "type": "quantitative", "axis": {"orient": "top", "values": [0,10,20,30,40,50,60], "labels": false, "domain": false, "tickSize": -6, "tickColor": "#333", "title": null}},
"y": {"field": "v", "type": "quantitative"},
"text": {"field": "txt"},
"color": {"field": "k", "type": "nominal", "legend": null}
}
},
{
"data": {"name": "diag"},
"mark": {"type": "rule", "color": "#111", "strokeWidth": 1},
"encoding": {
"x": {"field": "t", "type": "quantitative", "axis": null},
"x2": {"field": "t2"},
"y": {"field": "v", "type": "quantitative"},
"y2": {"field": "v2"}
}
},
{
"data": {"name": "bar"},
"mark": {"type": "rule", "color": "#333", "strokeWidth": 1.2},
"encoding": {
"x": {"field": "t", "type": "quantitative", "axis": null},
"x2": {"field": "t2"},
"y": {"field": "v", "type": "quantitative"},
"y2": {"field": "v2"}
}
},
{
"data": {"name": "barlab"},
"mark": {"type": "text", "align": "left", "baseline": "alphabetic", "fontSize": 19, "color": "#222"},
"encoding": {
"x": {"field": "t", "type": "quantitative", "axis": null},
"y": {"field": "v", "type": "quantitative"},
"text": {"field": "txt"}
}
}
]
}
]
}
